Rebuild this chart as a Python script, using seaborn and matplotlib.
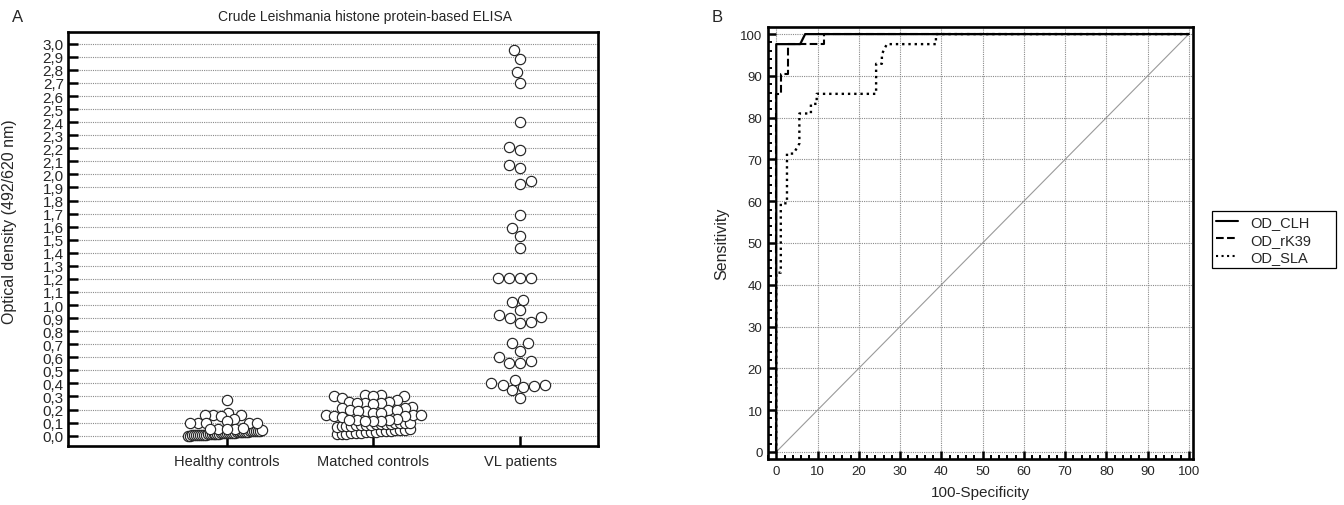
import numpy as np
import pandas as pd
import matplotlib
matplotlib.use("Agg")
import matplotlib.pyplot as plt
from matplotlib.lines import Line2D
from matplotlib.ticker import MultipleLocator
import seaborn as sns

# ---------------- data ----------------
groups = ["Healthy controls", "Matched controls", "VL patients"]

healthy_upper = [0.27, 0.17, 0.16, 0.16, 0.16, 0.15, 0.13, 0.10,
                 0.10, 0.10, 0.10, 0.10, 0.11, 0.05, 0.05, 0.05, 0.06, 0.05]
healthy_band = [0.000, 0.001, 0.002, 0.003, 0.004, 0.005, 0.006, 0.007,
                0.008, 0.009, 0.010, 0.011, 0.012, 0.013, 0.014, 0.015,
                0.016, 0.017, 0.018, 0.019, 0.020, 0.021, 0.022, 0.023,
                0.024, 0.025, 0.026, 0.027, 0.028, 0.029, 0.030, 0.031,
                0.032, 0.033, 0.034, 0.035, 0.036, 0.038, 0.040]

matched_upper = [0.31, 0.31, 0.30, 0.30, 0.30, 0.29, 0.27, 0.26, 0.26,
                 0.25, 0.25, 0.25, 0.24, 0.22, 0.21, 0.21, 0.20, 0.20,
                 0.20, 0.19, 0.19, 0.17, 0.17, 0.16, 0.16, 0.16, 0.15,
                 0.15, 0.14, 0.13, 0.12, 0.12, 0.12, 0.11, 0.11, 0.11]
matched_band_low = [0.010, 0.013, 0.016, 0.019, 0.021, 0.024, 0.026, 0.028,
                    0.031, 0.033, 0.036, 0.038, 0.041, 0.044, 0.047, 0.050]
matched_band_high = [0.070, 0.072, 0.074, 0.076, 0.078, 0.080, 0.082, 0.084,
                     0.086, 0.088, 0.090, 0.092, 0.094, 0.096, 0.098, 0.100]

vl_values = [2.95, 2.88, 2.78, 2.70, 2.40, 2.19, 2.21, 2.05, 2.07, 1.93,
             1.95, 1.69, 1.59, 1.53, 1.44, 1.21, 1.21, 1.21, 1.21, 1.02,
             1.04, 0.96, 0.92, 0.90, 0.91, 0.86, 0.87, 0.71, 0.71, 0.65,
             0.60, 0.56, 0.56, 0.57, 0.35, 0.37, 0.40, 0.43, 0.39, 0.39,
             0.29, 0.38]

ytick_vals = [round(0.1 * i, 1) for i in range(31)]
ytick_labels = [f"{v:.1f}".replace(".", ",") for v in ytick_vals]

# ROC curves (100-Specificity, Sensitivity)
clh_x = [0, 0, 5.8, 7.0, 100]
clh_y = [0, 97.6, 97.6, 100, 100]
rk39_x = [0, 0, 1.1, 1.1, 2.8, 2.8, 11.5, 11.5, 100]
rk39_y = [0, 85.7, 85.7, 90.5, 90.5, 97.6, 97.6, 100, 100]
sla_x = [0, 0, 1.1, 1.1, 2.6, 2.6, 4.2, 5.6, 5.6, 8.4, 8.4, 9.8, 9.8,
         24.2, 24.2, 25.6, 25.6, 26.8, 38.7, 38.7, 100]
sla_y = [0, 42.9, 42.9, 59.5, 59.5, 71.4, 71.4, 73.8, 81.0, 81.0, 83.3,
         83.3, 85.7, 85.7, 92.9, 92.9, 95.2, 97.6, 97.6, 100, 100]
roc_names = ["OD_CLH", "OD_rK39", "OD_SLA"]

# ---------------- style ----------------
sns.set_theme(style="white")
plt.rcParams["font.family"] = ["Liberation Sans", "DejaVu Sans"]
plt.rcParams["font.size"] = 10

fig = plt.figure(figsize=(13.44, 5.06), dpi=100)
W, H = 1344, 506

def axrect(l, t, r, b):
    return [l / W, 1 - b / H, (r - l) / W, (b - t) / H]

axA = fig.add_axes(axrect(68, 33, 598, 447))
axB = fig.add_axes(axrect(768, 28, 1193, 460))

grid_kw = dict(color="#8a8a8a", linestyle=(0, (1, 1)), linewidth=0.8)
edge_col = "#262626"
final_size = 7.4

# ---------------- panel A ----------------
axA.set_xlim(-1.08, 2.53)
axA.set_ylim(-0.079, 3.09)

df_controls = pd.DataFrame({
    "group": [groups[0]] * len(healthy_upper) + [groups[1]] * len(matched_upper),
    "od": healthy_upper + matched_upper,
})
df_vl = pd.DataFrame({"group": [groups[2]] * len(vl_values), "od": vl_values})

for v in ytick_vals:
    axA.axhline(v, zorder=0, **grid_kw)

def band_positions(center, n, half):
    return [center - half + 2 * half * i / (n - 1) for i in range(n)]

band_kw = dict(s=final_size ** 2, color="white", edgecolor=edge_col,
               linewidth=0.85, legend=False, zorder=3)
sns.scatterplot(x=band_positions(-0.01, len(healthy_band), 0.25), y=healthy_band,
                ax=axA, **band_kw)
sns.scatterplot(x=band_positions(1, len(matched_band_low), 0.25), y=matched_band_low,
                ax=axA, **band_kw)
sns.scatterplot(x=band_positions(1, len(matched_band_high), 0.25), y=matched_band_high,
                ax=axA, **band_kw)

swarm_kw = dict(x="group", y="od", order=groups, ax=axA, color="white",
                edgecolor=edge_col, linewidth=0.85, zorder=4, warn_thresh=1)
n_before = len(axA.collections)
sns.swarmplot(data=df_controls, size=4.7, **swarm_kw)
sns.swarmplot(data=df_vl, size=6.9, **swarm_kw)
swarm_colls = axA.collections[n_before:]

axA.set_xlim(-1.08, 2.53)
axA.set_ylim(-0.079, 3.09)
axA.set_yticks(ytick_vals)
axA.set_yticklabels(ytick_labels)
axA.set_xticks(range(len(groups)))
axA.set_xticklabels(groups)
axA.set_xlabel("")
axA.set_ylabel("Optical density (492/620 nm)", fontsize=11.5)
axA.yaxis.set_label_coords(-0.096, 0.545)
axA.set_title("Crude Leishmania histone protein-based ELISA", fontsize=10,
              x=0.56, pad=9)
axA.tick_params(axis="y", direction="in", length=7, width=1.8, pad=3,
                labelsize=11, left=True, color="black")
axA.tick_params(axis="x", direction="in", length=7, width=1.8, pad=6,
                labelsize=10.5, bottom=True, color="black")
for s in axA.spines.values():
    s.set_linewidth(1.9)
    s.set_color("black")
axA.grid(False)

# ---------------- panel B ----------------
axB.set_xlim(-2, 101)
axB.set_ylim(-1.7, 101.7)
ticks = list(range(0, 101, 10))
for v in ticks:
    axB.axhline(v, zorder=0, **grid_kw)
    axB.axvline(v, zorder=0, **grid_kw)
sns.lineplot(x=[0, 100], y=[0, 100], ax=axB, color="#9a9a9a", linewidth=0.8,
             sort=False, zorder=1)

line_styles = ["-", "--", ":"]
line_widths = [1.6, 1.5, 1.7]
for xs, ys, ls, lw in zip([clh_x, rk39_x, sla_x], [clh_y, rk39_y, sla_y],
                          line_styles, line_widths):
    sns.lineplot(x=xs, y=ys, ax=axB, color="black", linestyle=ls,
                 linewidth=lw, sort=False, estimator=None, zorder=3)

axB.set_xticks(ticks)
axB.set_yticks(ticks)
axB.xaxis.set_minor_locator(MultipleLocator(2))
axB.yaxis.set_minor_locator(MultipleLocator(2))
axB.tick_params(which="major", direction="in", length=6, width=1.8,
                labelsize=9.5, left=True, bottom=True, color="black", pad=4)
axB.tick_params(which="minor", direction="in", length=3, width=1.4,
                left=True, bottom=True, color="black")
axB.set_xlabel("100-Specificity", fontsize=11, labelpad=6)
axB.set_ylabel("Sensitivity", fontsize=11.5, labelpad=8)
for s in axB.spines.values():
    s.set_linewidth(1.9)
    s.set_color("black")
axB.grid(False)

handles = [Line2D([0], [0], color="black", linestyle=ls, linewidth=1.5)
           for ls in line_styles]
leg = fig.legend(handles, roc_names, loc="upper left",
                 bbox_to_anchor=(1212 / W, 1 - 280 / H, 124 / W, 68 / H),
                 mode="expand", frameon=True,
                 fancybox=False, edgecolor="black", framealpha=1,
                 fontsize=10.5, handlelength=1.5, labelspacing=0.22,
                 borderpad=0.3, handletextpad=0.8, borderaxespad=0)
leg.get_frame().set_linewidth(0.9)

fig.text(12 / W, 1 - 17 / H, "A", fontsize=12, va="center", ha="left")
fig.text(712 / W, 1 - 17 / H, "B", fontsize=12, va="center", ha="left")

# lay out the swarm with a slightly tighter packing, then freeze it and
# draw the circles at their full size (the reference lets dots overlap a bit)
fig.canvas.draw()
for coll in swarm_colls:
    if "draw" in coll.__dict__:
        del coll.draw
    coll.set_sizes([final_size ** 2])

fig.savefig("out.png", dpi=100)
